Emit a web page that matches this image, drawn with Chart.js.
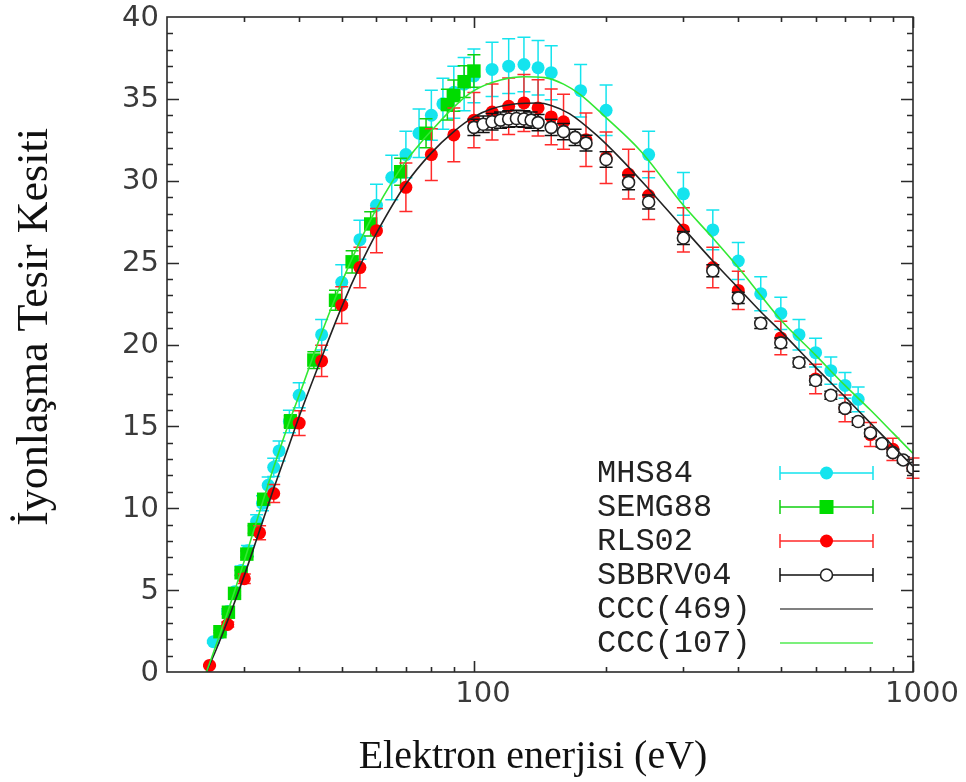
<!DOCTYPE html>
<html>
<head>
<meta charset="utf-8">
<script src="https://cdn.jsdelivr.net/npm/chart.js@4.4.0/dist/chart.umd.min.js"></script>
<style>
  html, body { margin: 0; padding: 0; background: #fff; }
</style>
</head>
<body>
<canvas id="chart" width="966" height="782"></canvas>
<script>
// MHS84
const mhsE = [25.5, 26.5, 27.5, 28.5, 29.5, 30.5, 32, 33, 34, 35, 36, 38, 40, 45, 50, 55, 60, 65, 70, 75, 80, 85, 90, 95, 100, 110, 120, 130, 140, 150, 175, 200, 250, 300, 350, 400, 450, 500, 550, 600, 650, 700, 750]
const mhsY = [1.85, 2.4, 3.7, 4.9, 6.2, 7.4, 9.2, 10.3, 11.4, 12.5, 13.5, 15.3, 16.9, 20.6, 23.8, 26.4, 28.5, 30.2, 31.6, 32.9, 34.0, 34.7, 35.4, 35.9, 36.4, 36.8, 37.0, 37.1, 36.9, 36.6, 35.5, 34.3, 31.6, 29.2, 27.0, 25.1, 23.1, 21.9, 20.6, 19.5, 18.4, 17.5, 16.65]
const mhsErr = [0.08, 0.11, 0.17, 0.22, 0.28, 0.33, 0.41, 0.46, 0.51, 0.56, 0.61, 0.69, 0.76, 0.93, 1.07, 1.19, 1.28, 1.36, 1.42, 1.48, 1.53, 1.56, 1.59, 1.62, 1.64, 1.66, 1.67, 1.67, 1.66, 1.65, 1.6, 1.54, 1.42, 1.31, 1.22, 1.13, 1.04, 0.99, 0.93, 0.88, 0.83, 0.79, 0.75]

// SEMG88
const semgE = [26.4, 27.6, 28.5, 29.5, 30.4, 31.6, 33.2, 38.2, 43.2, 48.4, 52.8, 58.2, 68.1, 77.8, 87, 90, 95, 100]
const semgY = [2.46, 3.65, 4.8, 6.06, 7.2, 8.7, 10.55, 15.3, 19.05, 22.7, 25.05, 27.36, 30.55, 32.9, 34.65, 35.2, 36.05, 36.7]
const semgErr = [0.07, 0.1, 0.13, 0.16, 0.19, 0.23, 0.28, 0.41, 0.51, 0.61, 0.68, 0.74, 0.82, 0.89, 0.94, 0.95, 0.97, 0.99]

// RLS02
const rlsE = [25, 27.5, 30, 32.5, 35, 40, 45, 50, 55, 60, 70, 80, 90, 100, 110, 120, 130, 140, 150, 160, 180, 200, 225, 250, 300, 350, 400, 500, 600, 700, 800, 900, 1000]
const rlsY = [0.4, 2.9, 5.7, 8.5, 10.9, 15.2, 19.0, 22.4, 24.7, 26.95, 29.6, 31.6, 32.8, 33.7, 34.2, 34.55, 34.75, 34.45, 33.9, 33.6, 32.5, 31.4, 30.4, 29.1, 27.0, 24.7, 23.3, 20.4, 17.9, 16.1, 14.5, 13.6, 12.45]
const rlsErr = [0.05, 0.15, 0.29, 0.43, 0.55, 0.76, 0.95, 1.12, 1.24, 1.35, 1.48, 1.58, 1.64, 1.69, 1.71, 1.73, 1.74, 1.72, 1.7, 1.68, 1.63, 1.57, 1.52, 1.46, 1.35, 1.24, 1.17, 1.02, 0.9, 0.81, 0.73, 0.68, 0.62]

// SBBRV04
const sbbE = [100, 105, 110, 115, 120, 125, 130, 135, 140, 150, 160, 170, 180, 200, 225, 250, 300, 350, 400, 450, 500, 550, 600, 650, 700, 750, 800, 850, 900, 950, 1000]
const sbbY = [33.26, 33.45, 33.6, 33.7, 33.77, 33.8, 33.77, 33.7, 33.55, 33.26, 33.0, 32.65, 32.3, 31.3, 29.9, 28.7, 26.5, 24.5, 22.85, 21.3, 20.1, 18.9, 17.8, 16.9, 16.1, 15.3, 14.6, 13.95, 13.4, 12.95, 12.45]
const sbbErr = [0.5, 0.5, 0.5, 0.5, 0.5, 0.5, 0.5, 0.5, 0.5, 0.5, 0.5, 0.49, 0.48, 0.47, 0.45, 0.43, 0.4, 0.37, 0.34, 0.32, 0.3, 0.28, 0.27, 0.25, 0.24, 0.23, 0.22, 0.21, 0.2, 0.19, 0.19]

// CCC(469)
const ccc469E = [24.6, 26, 28, 30, 32, 35, 38, 40, 45, 50, 55, 60, 70, 80, 90, 100, 110, 125, 140, 150, 165, 190, 215, 250, 300, 350, 400, 450, 500, 600, 700, 800, 900, 1000]
const ccc469Y = [0, 1.5, 3.7, 5.9, 8.1, 11.2, 13.9, 15.6, 19.2, 22.3, 24.8, 26.8, 29.8, 31.7, 33.0, 33.9, 34.4, 34.7, 34.75, 34.6, 34.1, 32.8, 31.4, 29.5, 27.1, 25.1, 23.45, 22.0, 20.8, 18.6, 16.8, 15.2, 13.8, 12.55]

// CCC(107)
const ccc107E = [24.6, 26, 28, 30, 32, 35, 38, 40, 45, 50, 55, 60, 65, 70, 75, 80, 90, 100, 115, 130, 145, 160, 175, 200, 240, 300, 350, 400, 450, 500, 600, 700, 800, 900, 1000]
const ccc107Y = [0, 1.8, 4.3, 6.8, 9.2, 12.5, 15.3, 16.9, 20.7, 23.8, 26.3, 28.3, 29.9, 31.2, 32.2, 33.05, 34.5, 35.5, 36.15, 36.35, 36.3, 35.9, 35.25, 33.85, 31.8, 28.5, 26.5, 24.7, 23.0, 21.5, 19.35, 17.5, 16.0, 14.6, 13.35]

// axes
const xMin = 20
const xMax = 1000
const xLabelTicks = [100, 1000]
const xMinorTicks = [30, 40, 50, 60, 70, 80, 90, 200, 300, 400, 500, 600, 700, 800, 900]
const yMin = 0
const yMax = 40
const yLabelTicks = [0, 5, 10, 15, 20, 25, 30, 35, 40]

const xTitle = 'Elektron enerjisi (eV)'
const yTitle = 'İyonlaşma Tesir Kesiti'

const cyan = '#14e4ee'
const green = '#00dc00'
const red = '#ff0000'
const lineGreen = '#33e833'
const lineBlack = '#222222'

function toPoints(xs, ys) {
    return xs.map((x, i) => ({ x: x, y: ys[i] }))
}

// error bars drawn under each dataset's own points
const errorBars = {
    id: 'errorBars',
    beforeDatasetDraw(chart, args) {
        const ds = chart.data.datasets[args.index]
        if (!ds.errors) return
        const ctx = chart.ctx
        const xs = chart.scales.x
        const ys = chart.scales.y
        ctx.save()
        ctx.strokeStyle = ds.errColor
        ctx.lineWidth = 1.5
        ctx.beginPath()
        ds.data.forEach((p, i) => {
            const px = xs.getPixelForValue(p.x)
            const top = ys.getPixelForValue(p.y + ds.errors[i])
            const bot = ys.getPixelForValue(p.y - ds.errors[i])
            ctx.moveTo(px, top)
            ctx.lineTo(px, bot)
            ctx.moveTo(px - 6.5, top)
            ctx.lineTo(px + 6.5, top)
            ctx.moveTo(px - 6.5, bot)
            ctx.lineTo(px + 6.5, bot)
        })
        ctx.stroke()
        ctx.restore()
    }
}

// box with inward ticks on all four sides, tick labels, titles and the key
const frame = {
    id: 'frame',
    afterDraw(chart) {
        const ctx = chart.ctx
        const a = chart.chartArea
        const xs = chart.scales.x
        const ys = chart.scales.y
        ctx.save()
        ctx.strokeStyle = '#2a2a2a'
        ctx.lineWidth = 1.6
        ctx.strokeRect(a.left, a.top, a.right - a.left, a.bottom - a.top)
        ctx.beginPath()
        xMinorTicks.forEach(v => {
            const px = Math.round(xs.getPixelForValue(v)) + 0.5
            ctx.moveTo(px, a.bottom); ctx.lineTo(px, a.bottom - 5)
            ctx.moveTo(px, a.top); ctx.lineTo(px, a.top + 5)
        })
        xLabelTicks.forEach(v => {
            const px = Math.round(xs.getPixelForValue(v)) + 0.5
            ctx.moveTo(px, a.bottom); ctx.lineTo(px, a.bottom - 11)
            ctx.moveTo(px, a.top); ctx.lineTo(px, a.top + 11)
        })
        for (let v = yMin + 1; v < yMax; v++) {
            const py = Math.round(ys.getPixelForValue(v)) + 0.5
            const len = yLabelTicks.includes(v) ? 12 : 6
            ctx.moveTo(a.left, py); ctx.lineTo(a.left + len, py)
            ctx.moveTo(a.right, py); ctx.lineTo(a.right - len, py)
        }
        ctx.stroke()

        // tick labels
        ctx.fillStyle = '#3a3a3a'
        ctx.font = '29px "DejaVu Sans"'
        ctx.textBaseline = 'middle'
        ctx.textAlign = 'center'
        xLabelTicks.forEach(v => {
            ctx.fillText(String(v), xs.getPixelForValue(v) + 9, a.bottom + 22)
        })
        ctx.textAlign = 'right'
        yLabelTicks.forEach(v => {
            ctx.fillText(String(v), a.left - 8, ys.getPixelForValue(v) + 1)
        })

        // axis titles
        ctx.fillStyle = '#111'
        ctx.textAlign = 'center'
        ctx.textBaseline = 'alphabetic'
        ctx.font = '40px "Liberation Serif"'
        ctx.fillText(xTitle, 533, 768)
        ctx.font = '44px "Liberation Serif"'
        ctx.translate(47, 327)
        ctx.rotate(-Math.PI / 2)
        ctx.fillText(yTitle, 0, 0)
        ctx.restore()

        // key
        ctx.save()
        ctx.font = '32px "Liberation Mono"'
        ctx.textAlign = 'left'
        ctx.textBaseline = 'middle'
        const x0 = 780, x1 = 873, xc = 826.5
        let rowY = 473
        keyOrder.forEach(idx => {
            const ds = chart.data.datasets[idx]
            ctx.fillStyle = '#222'
            ctx.fillText(ds.label, 597, rowY + 1)
            ctx.lineWidth = 1.5
            if (ds.errors) {
                ctx.strokeStyle = ds.errColor
                ctx.beginPath()
                ctx.moveTo(x0, rowY); ctx.lineTo(x1, rowY)
                ctx.moveTo(x0, rowY - 7); ctx.lineTo(x0, rowY + 7)
                ctx.moveTo(x1, rowY - 7); ctx.lineTo(x1, rowY + 7)
                ctx.stroke()
                ctx.fillStyle = ds.pointBackgroundColor
                ctx.strokeStyle = ds.pointBorderColor
                ctx.lineWidth = ds.pointBorderWidth
                if (ds.pointStyle === 'rect') {
                    ctx.fillRect(xc - 7, rowY - 7, 14, 14)
                } else {
                    ctx.beginPath()
                    ctx.arc(xc, rowY, ds.pointRadius, 0, Math.PI * 2)
                    ctx.fill()
                    if (ds.pointBorderWidth) ctx.stroke()
                }
            } else {
                ctx.strokeStyle = ds.keyColor
                ctx.lineWidth = 2
                ctx.beginPath()
                ctx.moveTo(x0, rowY); ctx.lineTo(x1, rowY)
                ctx.stroke()
            }
            rowY += 34
        })
        ctx.restore()
    }
}

const datasets = [
    {
        label: 'CCC(107)', data: toPoints(ccc107E, ccc107Y), showLine: true,
        borderColor: lineGreen, borderWidth: 1.6, pointRadius: 0, keyColor: '#7cf07c',
        cubicInterpolationMode: 'monotone'
    },
    {
        label: 'CCC(469)', data: toPoints(ccc469E, ccc469Y), showLine: true,
        borderColor: lineBlack, borderWidth: 1.6, pointRadius: 0, keyColor: '#808080',
        cubicInterpolationMode: 'monotone'
    },
    {
        label: 'SBBRV04', data: toPoints(sbbE, sbbY), errors: sbbErr, errColor: '#111',
        pointStyle: 'circle', pointRadius: 6, pointBackgroundColor: '#fff',
        pointBorderColor: '#222', pointBorderWidth: 1.6
    },
    {
        label: 'RLS02', data: toPoints(rlsE, rlsY), errors: rlsErr, errColor: '#ff2a2a',
        pointStyle: 'circle', pointRadius: 6.5, pointBackgroundColor: red,
        pointBorderColor: red, pointBorderWidth: 0
    },
    {
        label: 'SEMG88', data: toPoints(semgE, semgY), errors: semgErr, errColor: '#10d010',
        pointStyle: 'rect', pointRadius: 9.5, pointBackgroundColor: green,
        pointBorderColor: green, pointBorderWidth: 0
    },
    {
        label: 'MHS84', data: toPoints(mhsE, mhsY), errors: mhsErr, errColor: cyan,
        pointStyle: 'circle', pointRadius: 6.5, pointBackgroundColor: cyan,
        pointBorderColor: cyan, pointBorderWidth: 0
    }
]
const keyOrder = [5, 4, 3, 2, 1, 0]

new Chart(document.getElementById('chart'), {
    type: 'scatter',
    data: { datasets: datasets },
    options: {
        responsive: false,
        devicePixelRatio: 1,
        animation: false,
        events: [],
        layout: { padding: { left: 167, top: 17, right: 53, bottom: 110 } },
        plugins: {
            legend: { display: false },
            tooltip: { enabled: false }
        },
        scales: {
            x: {
                type: 'logarithmic',
                min: xMin,
                max: xMax,
                grid: { display: false, drawTicks: false },
                border: { display: false },
                ticks: { display: false },
                afterFit(s) { s.height = 0 }
            },
            y: {
                min: yMin,
                max: yMax,
                grid: { display: false, drawTicks: false },
                border: { display: false },
                ticks: { display: false },
                afterFit(s) { s.width = 0 }
            }
        }
    },
    plugins: [errorBars, frame]
})
</script>
</body>
</html>
